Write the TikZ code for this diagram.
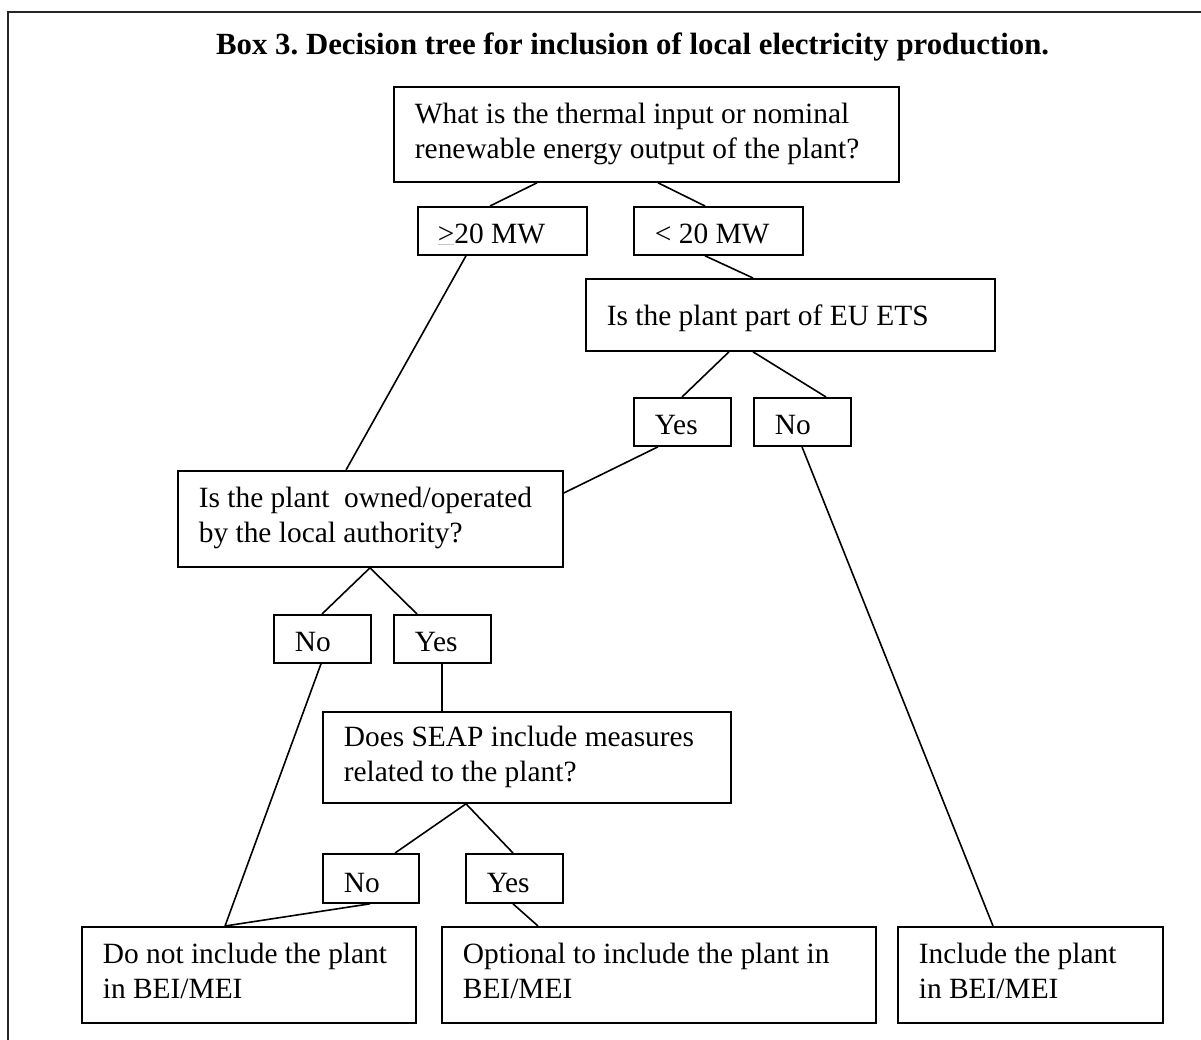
\documentclass[tikz,border=0pt]{standalone}
\usepackage{fontspec}
\setmainfont{Liberation Serif}
\frenchspacing
\newcommand\btext[4]{\parbox[c][#2][t]{#1}{\raggedright\leftskip=21pt\relax\vspace*{\dimexpr#3-24.5pt\relax}\strut #4}}
\tikzset{
  box/.style={draw, line width=1.8pt, inner sep=0pt, anchor=north west},
  link/.style={line width=1.6pt},
  frame/.style={line width=2pt, draw=black!85}
}
\begin{document}
\begin{tikzpicture}[x=1pt, y=-1pt, font=\fontsize{29.4}{35}\selectfont]
\useasboundingbox (0,0) rectangle (1201,1039);
\fill[white] (0,0) rectangle (1201,1039);
\draw[frame] (8,1045) -- (8,12) -- (1210,12);
\node[anchor=base west, inner sep=0pt, font=\fontsize{30.8}{36}\selectfont\bfseries] (title) at (216,54) {Box 3. Decision tree for inclusion of local electricity production.};
% boxes
\node[box] (q1) at (393,86) {\btext{505pt}{95pt}{37pt}{What is the thermal input or nominal\\renewable energy output of the plant?}};
\node[box] (gt20) at (417,206) {\btext{169pt}{48pt}{37pt}{\hspace*{-1pt}\rlap{\color{black!22}\rule[-1.5pt]{16pt}{1.2pt}}>20 MW}};
\node[box] (lt20) at (633,206) {\btext{169pt}{48pt}{37pt}{< 20 MW}};
\node[box] (q2) at (585,278) {\btext{409pt}{72pt}{47pt}{Is the plant part of EU ETS}};
\node[box] (yes1) at (633,397) {\btext{97pt}{48pt}{37pt}{Yes}};
\node[box] (no1) at (753,397) {\btext{97pt}{48pt}{37pt}{No}};
\node[box] (q3) at (177,470) {\btext{385pt}{96pt}{37pt}{Is the plant~ owned/operated\\by the local authority?}};
\node[box] (no2) at (273,614) {\btext{97pt}{48pt}{37pt}{No}};
\node[box] (yes2) at (393,614) {\btext{97pt}{48pt}{37pt}{Yes}};
\node[box] (q4) at (322,711) {\btext{408pt}{91pt}{35pt}{Does SEAP include measures\\related to the plant?}};
\node[box] (no3) at (322,853) {\btext{96pt}{49pt}{39pt}{No}};
\node[box] (yes3) at (465,853) {\btext{97pt}{49pt}{39pt}{Yes}};
\node[box] (dn) at (81,926) {\btext{334pt}{96pt}{37pt}{Do not include the plant\\in BEI/MEI}};
\node[box] (opt) at (441,926) {\btext{434pt}{96pt}{37pt}{Optional to include the plant in\\BEI/MEI}};
\node[box] (inc) at (897,926) {\btext{265pt}{96pt}{37pt}{Include the plant\\in BEI/MEI}};
% connectors
\draw[link] (q1.south -| 537,0) -- (gt20.north -| 490,0);
\draw[link] (q1.south -| 658,0) -- (lt20.north -| 705,0);
\draw[link] (gt20.south -| 466,0) -- (q3.north -| 346,0);
\draw[link] (lt20.south -| 705,0) -- (q2.north -| 753,0);
\draw[link] (q2.south -| 729,0) -- (yes1.north -| 682,0);
\draw[link] (q2.south -| 753,0) -- (no1.north -| 826,0);
\draw[link] (yes1.south -| 658,0) -- (q3.east |- 0,493);
\draw[link] (no1.south -| 802,0) -- (inc.north -| 993,0);
\draw[link] (q3.south -| 370,0) -- (no2.north -| 322,0);
\draw[link] (q3.south -| 370,0) -- (yes2.north -| 417,0);
\draw[link] (no2.south -| 321,0) -- (dn.north -| 225,0);
\draw[link] (yes2.south -| 442,0) -- (q4.north -| 442,0);
\draw[link] (q4.south -| 466,0) -- (no3.north -| 395,0);
\draw[link] (q4.south -| 466,0) -- (yes3.north -| 513,0);
\draw[link] (no3.south -| 370,0) -- (dn.north -| 225,0);
\draw[link] (yes3.south -| 513,0) -- (opt.north -| 538,0);
\end{tikzpicture}
\end{document}
